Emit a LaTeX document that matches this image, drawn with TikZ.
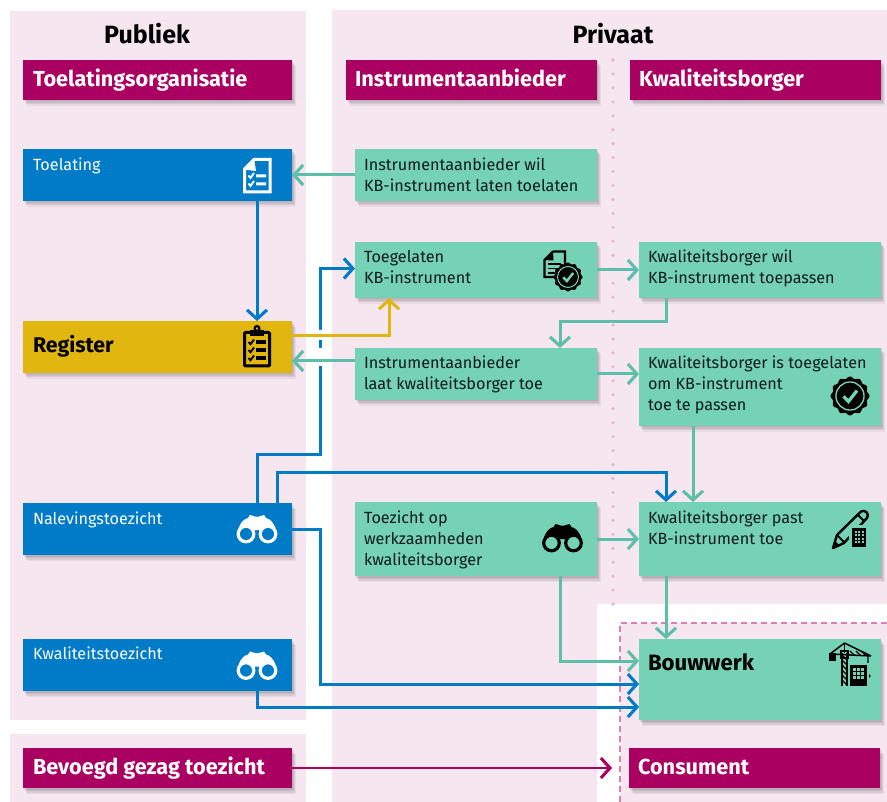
\documentclass[tikz,border=0pt]{standalone}
\usepackage{fontspec}
\setmainfont{Fira Sans}
\usetikzlibrary{arrows.meta,shadows,calc}
\definecolor{bgpink}{HTML}{F5E6F0}
\definecolor{maroon}{HTML}{A90061}
\definecolor{rblue}{HTML}{007BC7}
\definecolor{rgold}{HTML}{E1B60F}
\definecolor{rgreen}{HTML}{76D2B6}
\definecolor{rteal}{HTML}{5CBFA9}
\definecolor{dotpink}{HTML}{E6B4D6}
\definecolor{dashpink}{HTML}{DB7FB4}
\definecolor{ink}{HTML}{0B1A1A}
\newcommand\bt[4]{\parbox[t][#2pt][t]{#1pt}{\vspace*{\dimexpr#3pt-18pt\relax}\leftskip=9pt\rightskip=0pt plus 1fil\parindent=0pt\parskip=0pt\baselineskip=21pt\rule{0pt}{18pt}#4\par}}
\newcommand\hbt[4]{\parbox[t][#2pt][t]{#1pt}{\vspace*{\dimexpr#3pt-18pt\relax}\leftskip=10pt\rightskip=0pt plus 1fil\parindent=0pt\parskip=0pt\baselineskip=21pt\rule{0pt}{18pt}#4\par}}
\newcommand\binoc[3]{\begin{scope}[shift={(#1,#2)}]
 \fill[#3] (2.5,14) .. controls (5,8) and (8,5) .. (12,4) -- (14,1) -- (19,2.5) -- (23,2.5) -- (28,1) -- (30,4) .. controls (34,5) and (37,8) .. (39.5,14) -- (33,11) -- (26,13) -- (24,16) -- (18,16) -- (16,13) -- (9,11) -- cycle;
 \draw[#3,line width=3.2pt] (10,20) circle[radius=7.8] (32,20) circle[radius=7.8];
\end{scope}}
\newcommand\badge[4]{\fill[black] plot[domain=0:357,samples=120] ({#1+(#3*(.95+.05*cos(12*\x)))*cos(\x)},{#2+(#3*(.95+.05*cos(12*\x)))*sin(\x)}) -- cycle;
 \draw[#4,line width=.07*#3 pt] (#1,#2) circle[radius=.72*#3];
 \draw[#4,line width=.17*#3 pt] ({#1-.33*#3},{#2+.02*#3}) -- ({#1-.08*#3},{#2+.28*#3}) -- ({#1+.36*#3},{#2-.28*#3});}
\tikzset{
 x=1pt,y=-1pt,
 softshadow/.style={drop shadow={shadow xshift=1pt,shadow yshift=-1.5pt,opacity=.07,fill=black},
   drop shadow={shadow xshift=2pt,shadow yshift=-3pt,opacity=.07,fill=black},
   drop shadow={shadow xshift=3pt,shadow yshift=-4.5pt,opacity=.07,fill=black},
   drop shadow={shadow xshift=4pt,shadow yshift=-6pt,opacity=.05,fill=black}},
 basebox/.style={softshadow,inner sep=0pt,outer sep=0pt,anchor=north west},
 hdr/.style={basebox,fill=maroon,text=white,font=\fontsize{21.7}{25}\selectfont\bfseries},
 bluebox/.style={basebox,fill=rblue,text=white,font=\fontsize{16.2}{21}\selectfont},
 greenbox/.style={basebox,fill=rgreen,text=ink,font=\fontsize{16.2}{21}\selectfont},
 goldbox/.style={basebox,fill=rgold,text=black,font=\fontsize{21.3}{25}\selectfont\bfseries},
 bigbox/.style={basebox,fill=rgreen,text=black,font=\fontsize{22.2}{25}\selectfont\bfseries},
 title/.style={font=\fontsize{25}{28}\selectfont\bfseries,anchor=base},
 arr/.style={-{Straight Barb[length=9pt,width=20pt,line width=3.1pt]}},
 cblue/.style={draw=rblue,line width=3pt,arr},
 cteal/.style={draw=rteal,line width=3pt,arr},
 cgold/.style={draw=rgold,line width=3pt,arr},
 cmar/.style={draw=maroon,line width=2.6pt,arr},
}
\begin{document}
\begin{tikzpicture}
\useasboundingbox (0,0) rectangle (887,802);
% panels
\fill[bgpink] (10,11) rectangle (306,720);
\fill[bgpink] (10,734) rectangle (306,802);
\fill[bgpink] (332,10) -- (887,10) -- (887,604) -- (597,604) -- (597,802) -- (332,802) -- cycle;
\fill[bgpink] (620,623) rectangle (887,802);
\draw[dashpink,line width=1.5pt,dash pattern=on 6pt off 4pt] (887,623) -- (620,623) -- (620,802);
\draw[dotpink,line width=3.6pt,line cap=round,dash pattern=on 0pt off 13.95pt] (613,60) -- (613,606);
% titles
\node[title] (publiek) at (147,44) {Publiek};
\node[title] (privaat) at (613,44) {Privaat};
% headers
\node[hdr] (hToel) at (23,60) {\hbt{269}{40}{27}{Toelatingsorganisatie}};
\node[hdr] (hInst) at (346,60) {\bt{251}{40}{27}{Instrumentaanbieder}};
\node[hdr] (hKwal) at (630,60) {\bt{251}{40}{27}{Kwaliteitsborger}};
% public boxes
\node[bluebox] (toel) at (23,149) {\hbt{269}{52}{22}{Toelating}};
\node[goldbox] (reg) at (23,321) {\hbt{269}{52}{32}{Register}};
\node[bluebox] (nal) at (23,503) {\hbt{269}{52}{21}{Nalevingstoezicht}};
\node[bluebox] (kwt) at (23,639) {\hbt{269}{52}{20}{Kwaliteitstoezicht}};
\node[hdr] (bev) at (23,748) {\hbt{269}{40}{26}{Bevoegd gezag toezicht}};
% private boxes
\node[greenbox] (iwil) at (355,149) {\bt{242}{52}{22}{Instrumentaanbieder wil\\KB-instrument laten toelaten}};
\node[greenbox] (tkb) at (355,242) {\bt{242}{56}{21}{Toegelaten\\KB-instrument}};
\node[greenbox] (ilaat) at (355,348) {\bt{242}{52}{21}{Instrumentaanbieder\\laat kwaliteitsborger toe}};
\node[greenbox] (tzw) at (355,502) {\bt{242}{74}{21}{Toezicht op\\werkzaamheden\\kwaliteitsborger}};
\node[greenbox] (kwil) at (639,242) {\bt{242}{56}{21}{Kwaliteitsborger wil\\KB-instrument toepassen}};
\node[greenbox] (kis) at (639,348) {\bt{242}{78}{21}{Kwaliteitsborger is toegelaten\\om KB-instrument\\toe te passen}};
\node[greenbox] (kpast) at (639,502) {\bt{242}{74}{21}{Kwaliteitsborger past\\KB-instrument toe}};
\node[bigbox] (bouw) at (639,639) {\bt{242}{81}{31}{Bouwwerk}};
\node[hdr] (cons) at (629,748) {\bt{251}{40}{26}{Consument}};
% connectors
\draw[cblue] ([xshift=-35pt]toel.south east) -- ([xshift=-35pt]reg.north east);
\draw[cteal] (iwil.west) -- (toel.east);
\draw[cblue] ([xshift=-35pt]nal.north east) -- ++(0,-48) -- ++(63,0) |- ([yshift=1.5pt]tkb.west);
\draw[cblue] ([xshift=-15pt]nal.north east) -- ++(0,-31) -| ([xshift=27pt]kpast.north west);
\draw[cblue] (nal.east) -- ++(28,0) |- ([yshift=-4.5pt]bouw.west);
\draw[cblue] ([xshift=-35pt]kwt.south east) |- ([yshift=-27.5pt]bouw.west);
\fill[white] (317,330) rectangle (323,340) (317,348) rectangle (323,366);
\draw[cgold] ([yshift=11pt]reg.east) -| ([xshift=34pt]tkb.south west);
\draw[cteal] ([yshift=13pt]ilaat.west) -- ([yshift=-14pt]reg.east);
\draw[cteal] (tkb.east) -- (kwil.west);
\draw[cteal] ([xshift=27pt]kwil.south west) -- ++(0,24) -| ([xshift=205pt]ilaat.north west);
\draw[cteal] (ilaat.east) -- ([yshift=13pt]kis.west);
\draw[cteal] ([xshift=54pt]kis.south west) -- ([xshift=54pt]kpast.north west);
\draw[cteal] (tzw.east) -- (kpast.west);
\draw[cteal] ([xshift=205pt]tzw.south west) |- ([yshift=18.5pt]bouw.west);
\draw[cteal] ([xshift=27pt]kpast.south west) -- ([xshift=27pt]bouw.north west);
\draw[cmar,shorten >=17pt] (bev.east) -- (cons.west);
% icon: document with checks
\begin{scope}[white]
\draw[line width=3pt,line join=miter] (254,159.5) -- (270,159.5) -- (270,192) -- (244.5,192) -- (244.5,169) -- cycle;
\fill (243,169.5) -- (254,158) -- (256,171) -- cycle;
\draw[line width=1.9pt] (248.5,175.5) -- (250.5,178) -- (254,173) (248.5,183.5) -- (250.5,186) -- (254,181);
\fill (256,174.5) rectangle (266,177.5) (256,182.5) rectangle (266,185.5);
\end{scope}
% icon: clipboard
\draw[black,line width=3pt,rounded corners=1pt] (250,332.5) -- (244.5,332.5) -- (244.5,366) -- (269.5,366) -- (269.5,332.5) -- (264,332.5);
\fill[black] (250,330) rectangle (264,336);
\draw[black,line width=2.2pt] (257,328.5) circle[radius=2.4];
\foreach \yy in {342,350,358}{
 \draw[black,line width=1.9pt] (248.5,\yy) -- (250.5,\yy+2.2) -- (254,\yy-2.5);
 \fill[black] (256,\yy-1.6) rectangle (266,\yy+1.6);}
% icons: binoculars
\binoc{236}{514}{white}
\binoc{236}{650.5}{white}
\binoc{541.5}{523}{black}
% icon: document + badge
\draw[black,line width=2.4pt] (553,251.5) -- (565,251.5) -- (565,266) (558,277) -- (544.5,277) -- (544.5,260) -- (553,251.5);
\fill[black] (544,260) -- (553,251) -- (553.5,260.5) -- cycle;
\draw[black,line width=1.6pt] (548,264) -- (561,264) (548,268.5) -- (559,268.5) (548,273) -- (555,273);
\badge{568}{277}{14.5}{rgreen}
% icon: large badge
\badge{850}{396}{19.5}{rgreen}
% icon: pencil + building
\draw[black,line width=2.4pt,line join=round] (833,548) -- (837,535) -- (861,511.5) .. controls (865,509) and (870,514) .. (867,518) -- (844,543) -- cycle;
\draw[black,line width=1.8pt] (837,535) -- (845,543) (858,515) -- (864,521);
\fill[black] (833,548) -- (835,541) -- (840,546) -- cycle;
\fill[rgreen] (849,525) rectangle (869,550);
\fill[black] (852,528) rectangle (866,547);
\foreach \xx in {854.5,858.2,861.9}\foreach \yy in {530.5,534,537.5,541}{\fill[rgreen] (\xx,\yy) rectangle +(2,2);}
% icon: crane + building
\draw[black,line width=1.6pt] (842,653) -- (842,686) (847,653) -- (847,686);
\foreach \yy in {655,660,...,680}{\draw[black,line width=1.2pt] (842,\yy) -- (847,\yy+5);}
\draw[black,line width=1.5pt] (844.5,643) -- (830,654) (844.5,643) -- (871,656) (830,654) -- (871,656);
\draw[black,line width=1.4pt] (844.5,643) -- (844.5,653);
\fill[black] (829,653) rectangle (836,661);
\draw[black,line width=1.6pt] (841,651) rectangle (848,658);
\draw[black,line width=1.2pt] (850,651) -- (854,655) (856,651) -- (860,655) (862,652) -- (866,655.5);
\draw[black,line width=1.3pt] (868,656) -- (868,674) -- (870,676) -- (868,678) -- (866.5,676);
\fill[rgreen] (848,663) rectangle (869,686);
\fill[black] (850,665) rectangle (867,686);
\foreach \xx in {853,857.2,861.4}\foreach \yy in {668,672,676}{\fill[rgreen] (\xx,\yy) rectangle +(2.8,2.8);}
\end{tikzpicture}
\end{document}
